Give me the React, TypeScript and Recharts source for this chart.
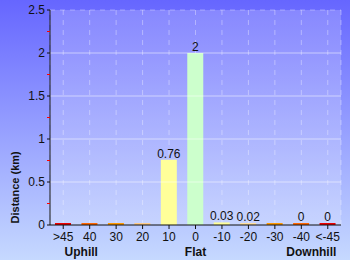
import { Bar, BarChart, CartesianGrid, Cell, LabelList, ReferenceLine, XAxis, YAxis } from "recharts";

const categories = [">45", "40", "30", "20", "10", "0", "-10", "-20", "-30", "-40", "<-45"];
const distances = [0, 0, 0, 0, 0.76, 2, 0.03, 0.02, 0, 0, 0];
const valueLabels = ["", "", "", "", "0.76", "2", "0.03", "0.02", "", "0", "0"];
const barColors = [
  "#ee0000", "#ff6600", "#ff9900", "#ffcc88", "#ffff99", "#ccffcc",
  "#ffff99", "#ffe0a0", "#ff9900", "#ff6600", "#ee0000",
];
const yTicks = [0, 0.25, 0.5, 0.75, 1, 1.25, 1.5, 1.75, 2, 2.25, 2.5];
const gridValues = [0.5, 1, 1.5, 2];
const groupLabels: Record<number, { text: string; dx: number }> = {
  0: { text: "Uphill", dx: 18 },
  5: { text: "Flat", dx: 0 },
  9: { text: "Downhill", dx: 10 },
};

const data = categories.map((name, i) => ({
  name,
  distance: distances[i],
  label: valueLabels[i],
}));

const FONT = "'Liberation Sans', Arial, sans-serif";

const XTick = (props: any) => {
  const { x, y, payload, index } = props;
  const group = groupLabels[index];
  return (
    <g>
      <text x={x} y={y} dy="0.71em" textAnchor="middle" fontSize={12} fill="#111" fontFamily={FONT}>
        {payload.value}
      </text>
      {group && (
        <text x={x + group.dx} y={y + 24} textAnchor="middle" fontSize={12} fontWeight="bold" fill="#111" fontFamily={FONT}>
          {group.text}
        </text>
      )}
    </g>
  );
};

const YTick = (props: any) => {
  const { x, y, payload } = props;
  const v = payload.value as number;
  const major = Math.abs(v * 2 - Math.round(v * 2)) < 1e-6;
  return (
    <g>
      <line x1={x + 2} x2={x + 5} y1={y} y2={y} stroke={major ? "#111" : "#ff0000"} strokeWidth={1} />
      {major && (
        <text x={x} y={y} dy="0.36em" textAnchor="end" fontSize={12} fill="#111" fontFamily={FONT}>
          {v}
        </text>
      )}
    </g>
  );
};

const YLabel = (props: any) => {
  const { viewBox } = props;
  const cx = 15;
  const cy = viewBox.y + viewBox.height * 0.825;
  return (
    <text
      x={cx}
      y={cy}
      transform={`rotate(-90, ${cx}, ${cy})`}
      textAnchor="middle"
      dominantBaseline="central"
      fontSize={11}
      fontWeight="bold"
      fill="#111"
      fontFamily={FONT}
    >
      Distance (km)
    </text>
  );
};

export default function App() {
  return (
    <div
      style={{
        position: "absolute",
        left: 0,
        top: 0,
        width: 350,
        height: 260,
        background: "linear-gradient(to bottom, #6666ff 0%, #c6d9ff 100%)",
      }}
    >
      <BarChart width={350} height={260} data={data} margin={{ top: 10, right: 9, left: 0, bottom: 15 }}>
        <defs>
          <linearGradient id="plotBg" x1="0" y1="0" x2="0" y2="1">
            <stop offset="0%" stopColor="#ffffff" stopOpacity={0.2} />
            <stop offset="100%" stopColor="#ffffff" stopOpacity={0.2} />
          </linearGradient>
        </defs>
        <CartesianGrid
          horizontal={false}
          fill="url(#plotBg)"
          stroke="rgba(255,255,255,0.35)"
          strokeDasharray="5 5"
        />
        {gridValues.map((v) => (
          <ReferenceLine key={v} y={v} stroke="rgba(255,255,255,0.5)" />
        ))}
        <ReferenceLine y={2.5} stroke="rgba(255,255,255,0.35)" strokeDasharray="5 5" />
        <XAxis
          dataKey="name"
          height={20}
          interval={0}
          tickSize={4}
          tickMargin={3}
          stroke="#111"
          tickLine={{ stroke: "#111" }}
          tick={XTick}
        />
        <YAxis
          width={50}
          domain={[0, 2.5]}
          ticks={yTicks}
          interval={0}
          tickSize={3}
          tickMargin={2}
          tickLine={false}
          stroke="#111"
          tick={YTick}
          label={YLabel}
        />
        <Bar dataKey="distance" barSize={16} minPointSize={2} isAnimationActive={false}>
          {data.map((_d, i) => (
            <Cell key={`cell-${i}`} fill={barColors[i]} />
          ))}
          <LabelList dataKey="label" position="top" offset={2} fontSize={12} fill="#111" fontFamily={FONT} />
        </Bar>
      </BarChart>
    </div>
  );
}
